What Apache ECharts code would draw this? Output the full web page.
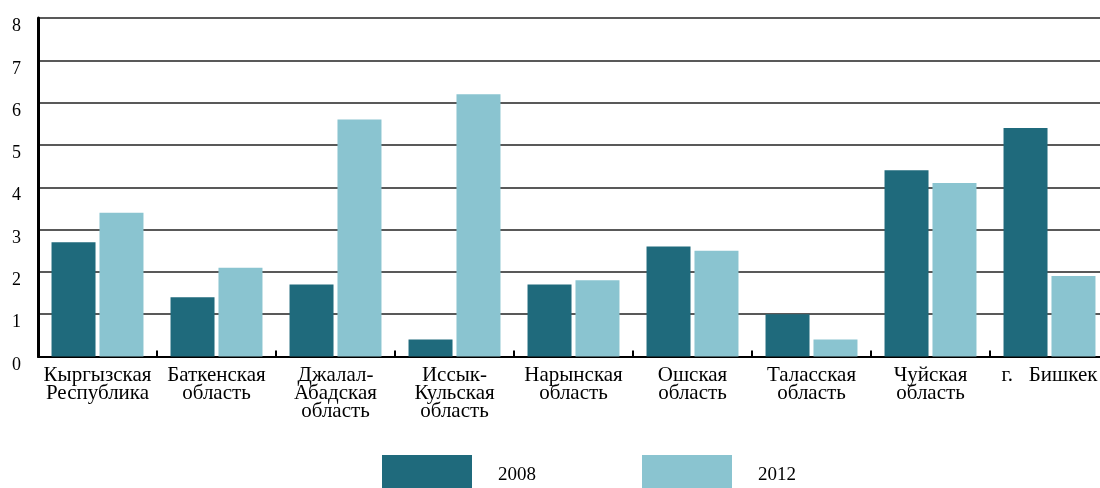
<!DOCTYPE html>
<html>
<head>
<meta charset="utf-8">
<script src="https://cdn.jsdelivr.net/npm/echarts@6/dist/echarts.min.js"></script>
<style>
  html, body { margin: 0; padding: 0; background: #fff; }
  #main { width: 1100px; height: 488px; }
</style>
</head>
<body>
<div id="main"></div>
<script>
// регионы и значения
var regions = [
  'Кыргызская\nРеспублика',
  'Баткенская\nобласть',
  'Джалал-\nАбадская\nобласть',
  'Иссык-\nКульская\nобласть',
  'Нарынская\nобласть',
  'Ошская\nобласть',
  'Таласская\nобласть',
  'Чуйская\nобласть',
  'г.   Бишкек'
];
var years = ['2008', '2012'];
var values2008 = [2.7, 1.4, 1.7, 0.4, 1.7, 2.6, 1.0, 4.4, 5.4];
var values2012 = [3.4, 2.1, 5.6, 6.2, 1.8, 2.5, 0.4, 4.1, 1.9];

var font = '"Liberation Serif", "Times New Roman", serif';

var myChart = echarts.init(document.getElementById('main'));

var option = {
  animation: false,
  grid: {
    left: 38,
    width: 1071,
    top: 18,
    bottom: 131.5,
    outerBoundsMode: 'none'
  },
  legend: {
    data: years,
    left: 377,
    top: 450,
    itemWidth: 90,
    itemHeight: 40,
    itemGap: 106,
    icon: 'rect',
    textStyle: {
      fontFamily: font,
      fontSize: 19,
      color: '#000',
      padding: [0, 0, 0, 21]
    }
  },
  xAxis: {
    type: 'category',
    data: regions,
    axisLine: { lineStyle: { color: '#000', width: 2 } },
    axisTick: { show: true, inside: true, length: 6, lineStyle: { color: '#000', width: 2 } },
    axisLabel: {
      interval: 0,
      margin: 10,
      fontFamily: font,
      fontSize: 21,
      lineHeight: 18,
      color: '#000'
    }
  },
  yAxis: {
    type: 'value',
    min: 0,
    max: 8,
    interval: 1,
    axisLine: { show: true, lineStyle: { color: '#000', width: 3 } },
    axisTick: { show: false },
    axisLabel: {
      margin: 17,
      fontFamily: font,
      fontSize: 18,
      color: '#000',
      verticalAlign: 'top',
      lineHeight: 17
    },
    splitLine: { lineStyle: { color: '#222', width: 1.5 } }
  },
  series: [
    {
      name: '2008',
      type: 'bar',
      data: values2008,
      barWidth: 44,
      barGap: '9%',
      itemStyle: { color: '#1F6A7C' }
    },
    {
      name: '2012',
      type: 'bar',
      data: values2012,
      barWidth: 44,
      itemStyle: { color: '#8AC4D0' }
    }
  ]
};

myChart.setOption(option);
</script>
</body>
</html>
